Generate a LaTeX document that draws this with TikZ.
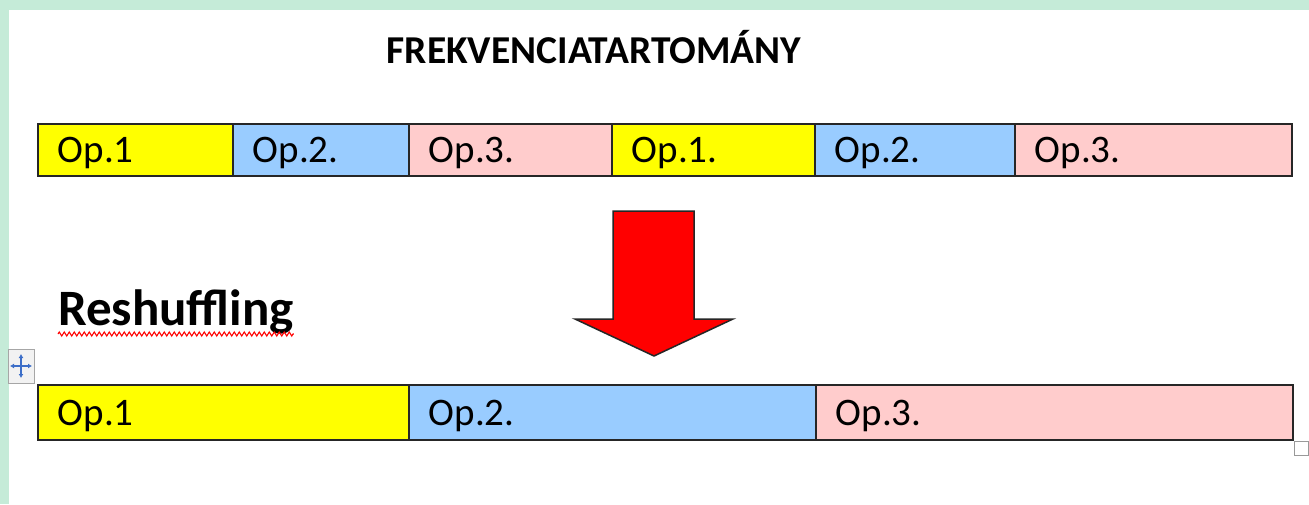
\documentclass[tikz,border=0pt]{standalone}
\usepackage{xcolor}
\usepackage{fontspec}
\setmainfont{Carlito}
\usepackage{tikz}
\usetikzlibrary{positioning, calc, decorations.pathmorphing, arrows.meta}
\definecolor{opyellow}{RGB}{255, 255, 0}
\definecolor{opblue}{RGB}{153, 204, 255}
\definecolor{oppink}{RGB}{255, 204, 204}
\definecolor{framegreen}{RGB}{197, 235, 216}
\definecolor{handleblue}{RGB}{60, 110, 200}

\begin{document}
\begin{tikzpicture}[
    x=1pt, y=-1pt,
    cell/.style={rectangle, draw=black!85, line width=1.6pt, anchor=north west, align=left,
        inner xsep=20pt, inner ysep=0pt, text height=26pt, text depth=0pt,
        font=\fontsize{39}{41}\selectfont},
    toprow/.style={cell, minimum height=52pt},
    botrow/.style={cell, minimum height=55pt},
    handle/.style={-{Latex[length=4pt, width=5pt]}, handleblue, line width=1.4pt}
]
    \useasboundingbox (0,0) rectangle (1309,504);
    \fill[white] (0,0) rectangle (1309,504);
    \fill[framegreen] (0,0) rectangle (1309,10);
    \fill[framegreen] (0,0) rectangle (9,504);

    % Title
    \node[font=\fontsize{39.5}{42}\selectfont\bfseries, anchor=base] (title) at (594,63) {FREKVENCIATARTOMÁNY};

    % Frequency band before
    \node[toprow, fill=opyellow, text width=155pt] (f1) at (37,123) {Op.1};
    \node[toprow, fill=opblue, text width=136pt] (f2) at (232,123) {Op.2.};
    \node[toprow, fill=oppink, text width=164pt] (f3) at (408,123) {Op.3.};
    \node[toprow, fill=opyellow, text width=163pt] (f4) at (611,123) {Op.1.};
    \node[toprow, fill=opblue, text width=160pt] (f5) at (814,123) {Op.2.};
    \node[toprow, fill=oppink, text width=237pt] (f6) at (1014,123) {Op.3.};

    % Big arrow
    \draw[fill=red, draw=black!85, line width=1.5pt] (613,211) -- (694,211) -- (694,319) -- (733,319)
        -- (654,356) -- (575,319) -- (613,319) -- cycle;

    % Reshuffling
    \node[font=\fontsize{51}{54}\selectfont\bfseries, anchor=base west, inner sep=0pt] (resh) at (58,325) {Reshuffling};
    \draw[red, line width=1.1pt, decorate, decoration={zigzag, segment length=5pt, amplitude=2pt}]
        ($(resh.base west)+(0,9)$) -- ($(resh.base east)+(0,9)$);

    % Frequency band after
    \node[botrow, fill=opyellow, text width=331pt] (r1) at (37,384) {Op.1};
    \node[botrow, fill=opblue, text width=367pt] (r2) at (408,384) {Op.2.};
    \node[botrow, fill=oppink, text width=437pt] (r3) at (815,384) {Op.3.};

    % Table handles
    \node[draw=black!35, fill=black!5, line width=1pt, minimum width=26pt, minimum height=34pt, inner sep=0pt] (move) at (21,366) {};
    \draw[handle] (move.center) -- ++(0,-12);
    \draw[handle] (move.center) -- ++(0,12);
    \draw[handle] (move.center) -- ++(-11,0);
    \draw[handle] (move.center) -- ++(11,0);
    \node[draw=black!40, fill=white, line width=1pt, minimum size=14pt, inner sep=0pt, anchor=north west] (size) at (r3.south east) {};
\end{tikzpicture}
\end{document}
